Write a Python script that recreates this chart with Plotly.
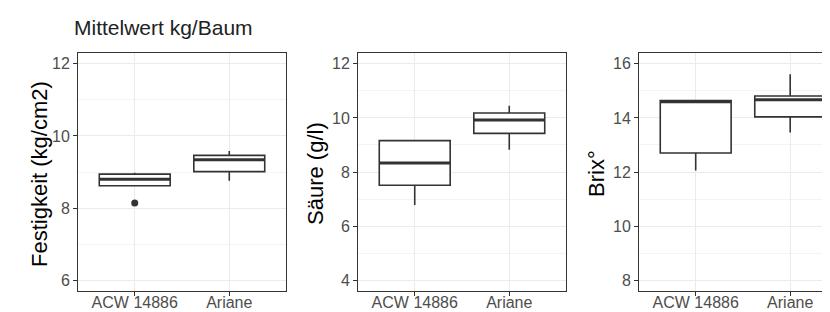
import plotly.graph_objects as go

categories = ["ACW 14886", "Ariane"]

# Festigkeit (kg/cm2)
fest_q1 = [8.62, 9.01]
fest_median = [8.80, 9.34]
fest_q3 = [8.94, 9.46]
fest_lower = [8.60, 8.76]
fest_upper = [8.98, 9.58]
fest_outlier_cat = ["ACW 14886"]
fest_outlier_val = [8.14]

# Säure (g/l)
saeure_q1 = [7.51, 9.43]
saeure_median = [8.33, 9.92]
saeure_q3 = [9.16, 10.18]
saeure_lower = [6.78, 8.82]
saeure_upper = [9.16, 10.45]

# Brix°
brix_q1 = [12.70, 14.04]
brix_median = [14.60, 14.67]
brix_q3 = [14.64, 14.81]
brix_lower = [12.06, 13.46]
brix_upper = [14.64, 15.61]

y_ranges = [[5.7, 12.3], [3.6, 12.4], [7.6, 16.4]]
y_titles = ["Festigkeit (kg/cm2)", "Säure (g/l)", "Brix°"]
title_text = "Mittelwert kg/Baum"

W, H = 830, 312
FONT = "Liberation Sans, Arial, sans-serif"
LINE = "#333333"
BOXW = 0.75

panels = [
    (fest_q1, fest_median, fest_q3, fest_lower, fest_upper),
    (saeure_q1, saeure_median, saeure_q3, saeure_lower, saeure_upper),
    (brix_q1, brix_median, brix_q3, brix_lower, brix_upper),
]

x_px = [(70, 278), (350, 558), (631, 830)]
x_ranges = [[0.4, 2.6], [0.4, 2.6], [0.4, 0.4 + (830 - 631) / 94.5]]
y_dom = [1 - 283 / H, 1 - 45 / H]
title_x_px = [31, 307, 588]

fig = go.Figure()
pos = [i + 1 for i in range(len(categories))]

for p, (q1, med, q3, lo, hi) in enumerate(panels):
    xa = "x" if p == 0 else f"x{p+1}"
    ya = "y" if p == 0 else f"y{p+1}"
    for i, c in enumerate(categories):
        fig.add_trace(go.Box(
            x=[pos[i]], q1=[q1[i]], median=[med[i]], q3=[q3[i]],
            lowerfence=[lo[i]], upperfence=[hi[i]],
            width=BOXW, whiskerwidth=0,
            fillcolor="white", line=dict(color=LINE, width=1.6),
            boxpoints=False, showlegend=False, xaxis=xa, yaxis=ya,
            hoverinfo="skip",
        ))
        fig.add_trace(go.Scatter(
            x=[pos[i] - BOXW / 2, pos[i] + BOXW / 2], y=[med[i], med[i]],
            mode="lines", line=dict(color=LINE, width=3),
            showlegend=False, xaxis=xa, yaxis=ya, hoverinfo="skip",
        ))

# outlier in Festigkeit panel
fig.add_trace(go.Scatter(
    x=[pos[categories.index(c)] for c in fest_outlier_cat], y=fest_outlier_val,
    mode="markers", marker=dict(color=LINE, size=7),
    showlegend=False, xaxis="x", yaxis="y", hoverinfo="skip",
))

layout = dict(
    width=W, height=H,
    margin=dict(l=0, r=0, t=0, b=0),
    paper_bgcolor="white", plot_bgcolor="white",
    font=dict(family=FONT, color="#4d4d4d", size=16),
    showlegend=False,
)

for p in range(3):
    xk = "xaxis" if p == 0 else f"xaxis{p+1}"
    yk = "yaxis" if p == 0 else f"yaxis{p+1}"
    xa_anchor = "y" if p == 0 else f"y{p+1}"
    ya_anchor = "x" if p == 0 else f"x{p+1}"
    layout[xk] = dict(
        domain=[x_px[p][0] / W, x_px[p][1] / W], anchor=xa_anchor,
        range=x_ranges[p], tickvals=pos, ticktext=categories,
        showgrid=True, gridcolor="#ebebeb", gridwidth=1,
        zeroline=False, showline=True, linecolor=LINE, linewidth=1,
        mirror=True, ticks="outside", ticklen=4, tickcolor=LINE,
        ticklabelstandoff=-7,
        tickfont=dict(size=16, color="#4d4d4d"),
    )
    layout[yk] = dict(
        domain=y_dom, anchor=ya_anchor, range=y_ranges[p], dtick=2,
        showgrid=True, gridcolor="#ebebeb", gridwidth=1,
        minor=dict(dtick=1, showgrid=True, gridcolor="#f4f4f4", gridwidth=0.6),
        zeroline=False, showline=True, linecolor=LINE, linewidth=1,
        mirror=(p < 2), ticks="outside", ticklen=4, tickcolor=LINE,
        tickfont=dict(size=16, color="#4d4d4d"),
    )

annotations = [dict(
    text=title_text, xref="paper", yref="paper",
    x=64 / W, y=1 - 19 / H, xanchor="left", yanchor="middle",
    showarrow=False, font=dict(size=21, color="#222222", family=FONT),
)]
for p in range(3):
    annotations.append(dict(
        text=y_titles[p], xref="paper", yref="paper",
        x=title_x_px[p] / W, y=1 - 166 / H, xanchor="center", yanchor="middle",
        textangle=-90, showarrow=False,
        font=dict(size=22, color="black", family=FONT),
    ))
layout["annotations"] = annotations

fig.update_layout(**layout)
fig.write_html("out.html")
